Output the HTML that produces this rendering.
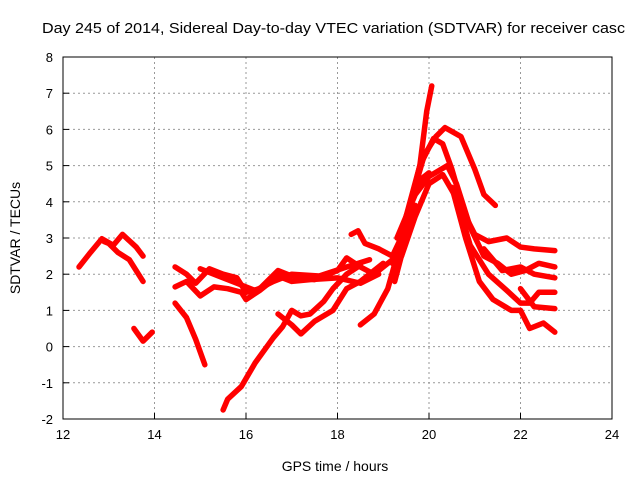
<!DOCTYPE html>
<html><head><meta charset="utf-8"><style>
body{margin:0;background:#fff;}
svg{display:block;font-family:"Liberation Sans",Arial,sans-serif;}
</style></head><body>
<svg id="c" width="640" height="480" xmlns="http://www.w3.org/2000/svg">
<text x="42" y="33" font-size="15" textLength="583" lengthAdjust="spacingAndGlyphs" fill="#000">Day 245 of 2014, Sidereal Day-to-day VTEC variation (SDTVAR) for receiver casc</text>
<g id="grid"></g>
<g id="ticks"></g>
<g id="series"></g>
<rect x="63" y="57" width="549" height="362" fill="none" stroke="#000" stroke-width="1"/>
<text x="335" y="471" font-size="14" text-anchor="middle">GPS time / hours</text>
<text transform="translate(20,238) rotate(-90)" font-size="14" text-anchor="middle">SDTVAR / TECUs</text>
</svg>
<script>
const xTicks=[12,14,16,18,20,22,24];
const yTicks=[-2,-1,0,1,2,3,4,5,6,7,8];
const tA1=[[12.35,2.2],[12.6,2.6],[12.85,2.98],[13.1,2.8],[13.3,3.1],[13.6,2.75],[13.75,2.5]];
const tA2=[[12.9,2.9],[13.0,2.85],[13.2,2.6],[13.45,2.4],[13.75,1.8]];
const tB=[[13.55,0.5],[13.75,0.15],[13.95,0.4]];
const tC=[[14.45,1.2],[14.7,0.8],[14.9,0.2],[15.1,-0.5]];
const tD=[[14.45,2.2],[14.7,2.0],[14.9,1.75],[15.2,2.15],[15.5,2.0],[15.8,1.9],[16.0,1.5],[16.3,1.6],[16.7,2.1],[17.0,1.95],[17.5,1.85],[18.0,2.1],[18.2,2.45],[18.5,2.2],[18.8,2.0],[19.2,2.4]];
const tE=[[14.45,1.65],[14.7,1.8],[15.0,1.4],[15.3,1.65],[15.6,1.6],[15.9,1.5],[16.0,1.3],[16.3,1.55],[16.7,1.95],[17.0,1.8],[17.4,1.85],[18.0,1.9],[18.5,1.75],[18.9,2.0]];
const tE2=[[15.0,2.15],[15.4,1.95],[15.8,1.75],[16.2,1.55],[16.6,1.8],[17.0,2.0],[17.6,1.95],[18.2,2.2],[18.7,2.4]];
const tF=[[15.5,-1.75],[15.6,-1.45],[15.9,-1.1],[16.2,-0.45],[16.6,0.25],[16.8,0.55],[17.0,1.0],[17.2,0.85],[17.4,0.9],[17.7,1.25],[17.9,1.6],[18.2,2.0],[18.5,2.25]];
const tG=[[16.7,0.9],[17.0,0.6],[17.2,0.35],[17.5,0.7],[17.9,1.0],[18.2,1.6],[18.5,1.8],[19.0,2.3]];
const tH=[[18.3,3.1],[18.45,3.2],[18.6,2.85],[18.9,2.7],[19.2,2.5],[19.5,3.3]];
const tP1=[[19.2,2.3],[19.5,3.5],[19.8,5.0],[19.95,6.5],[20.06,7.2]];
const tP2=[[19.6,4.0],[19.9,5.3],[20.15,5.8],[20.35,6.05],[20.7,5.8],[21.0,4.9],[21.2,4.2],[21.45,3.9]];
const tP3=[[19.5,3.6],[19.8,5.0],[20.1,5.75],[20.3,5.6],[20.5,4.9],[20.8,3.6],[21.0,3.1],[21.3,2.9],[21.7,3.0],[22.0,2.75],[22.3,2.7],[22.75,2.65]];
const tP4=[[19.3,3.0],[19.7,4.2],[20.0,4.7],[20.4,5.0],[20.6,4.5],[20.9,3.3],[21.2,2.5],[21.5,2.3],[21.8,2.0],[22.1,2.1],[22.4,2.3],[22.75,2.2]];
const tP5=[[19.4,2.5],[19.7,3.6],[20.0,4.5],[20.3,4.75],[20.6,4.1],[20.9,2.8],[21.3,2.0],[21.7,1.55],[22.0,1.2],[22.2,1.2],[22.4,1.5],[22.75,1.5]];
const tP6=[[20.5,4.4],[20.8,3.0],[21.1,1.8],[21.4,1.3],[21.8,1.0],[22.0,1.0],[22.2,0.5],[22.5,0.65],[22.75,0.4]];
const tP7=[[18.5,0.6],[18.8,0.9],[19.1,1.6],[19.3,2.5],[19.5,3.6],[19.8,4.6],[20.0,4.8]];
const tQ1=[[19.25,1.8],[19.5,3.0],[19.7,3.9]];
const tQ2=[[21.2,2.7],[21.6,2.1],[22.0,2.2],[22.3,2.0],[22.75,1.9]];
const tQ3=[[22.0,1.6],[22.3,1.1],[22.75,1.05]];
const tracks=[tA1,tA2,tB,tC,tD,tE,tE2,tF,tG,tH,tP1,tP2,tP3,tP4,tP5,tP6,tP7,tQ1,tQ2,tQ3];
const X0=12,X1=24,Y0=-2,Y1=8,L=63,R=612,T=57,B=419;
const xs=h=>L+(h-X0)/(X1-X0)*(R-L);
const ys=v=>B-(v-Y0)/(Y1-Y0)*(B-T);
const NS="http://www.w3.org/2000/svg";
const grid=document.getElementById('grid'),ticks=document.getElementById('ticks'),ser=document.getElementById('series');
function mk(t,a,p){const e=document.createElementNS(NS,t);for(const k in a)e.setAttribute(k,a[k]);p.appendChild(e);return e;}
xTicks.forEach(v=>{const x=xs(v);
 if(v>X0&&v<X1){const g=mk('line',{x1:x,x2:x,y1:T,y2:B,stroke:'#999','stroke-dasharray':'2,3'},grid);
 
 }
 const tk=mk('line',{x1:x,x2:x,y1:B,y2:B-6,stroke:'#000'},ticks);
 
 
 const t=mk('text',{x:x,y:B+20,'font-size':13,'text-anchor':'middle'},ticks);t.textContent=v;
 
 });
yTicks.forEach(v=>{const y=ys(v);
 if(v>Y0&&v<Y1){const g=mk('line',{x1:L,x2:R,y1:y,y2:y,stroke:'#999','stroke-dasharray':'2,3'},grid);
 
 }
 const tk=mk('line',{x1:L,x2:L+6,y1:y,y2:y,stroke:'#000'},ticks);
 
 
 const t=mk('text',{x:L-10,y:y+5,'font-size':13,'text-anchor':'end'},ticks);t.textContent=v;
 
 });
tracks.forEach(tr=>{
 const p=mk('polyline',{points:tr.map(d=>xs(d[0])+','+ys(d[1])).join(' '),fill:'none',stroke:'#f00','stroke-width':5.5,'stroke-linejoin':'round','stroke-linecap':'round'},ser);
 
 
});
</script>
</body></html>
